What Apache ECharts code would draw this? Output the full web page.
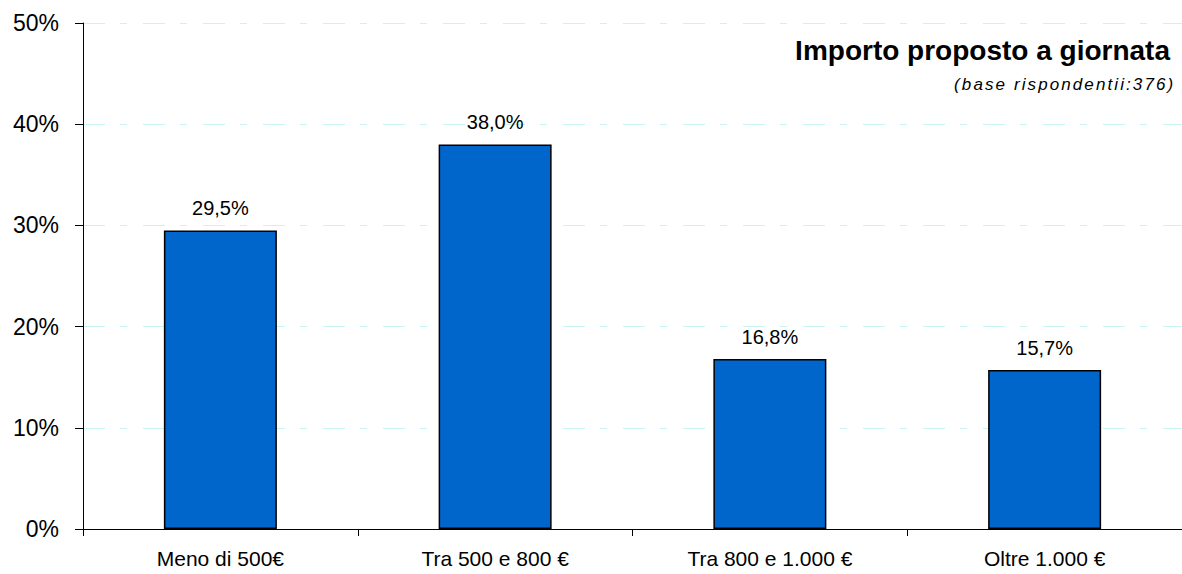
<!DOCTYPE html>
<html>
<head>
<meta charset="utf-8">
<script src="https://cdn.jsdelivr.net/npm/echarts@6/dist/echarts.min.js"></script>
<style>
  html, body { margin: 0; padding: 0; background: #ffffff; }
  #chart { width: 1182px; height: 574px; }
  /* spaced-out italic note under the heading */
  #chart text[style*="italic"] { letter-spacing: 2.1px; }
</style>
</head>
<body>
<div id="chart"></div>
<script>
// Fasce di importo giornaliero e quota di rispondenti (%)
const categories = ['Meno di 500€', 'Tra 500 e 800 €', 'Tra 800 e 1.000 €', 'Oltre 1.000 €'];
const shares = [29.5, 38.0, 16.8, 15.7];
const yTicks = [0, 10, 20, 30, 40, 50];

const FONT = '"Liberation Sans", Arial, sans-serif';

const chart = echarts.init(document.getElementById('chart'), null, { renderer: 'svg' });

chart.setOption({
  backgroundColor: '#ffffff',
  animation: false,
  title: [
    {
      text: 'Importo proposto a giornata',
      right: 7,
      top: 31,
      textStyle: { fontFamily: FONT, fontWeight: 'bold', fontSize: 28, color: '#000000' }
    },
    {
      // letter spacing widens the drawn text to the right, so it sits further in
      text: '(base rispondentii:376)',
      right: 50,
      top: 71,
      textStyle: { fontFamily: FONT, fontStyle: 'italic', fontWeight: 'normal', fontSize: 17, color: '#000000' }
    }
  ],
  grid: { left: 83, top: 23, width: 1105, height: 506, containLabel: false },
  xAxis: {
    type: 'category',
    data: categories,
    axisLine: { lineStyle: { color: '#000000', width: 1 } },
    axisTick: { show: true, length: 7, lineStyle: { color: '#000000' } },
    axisLabel: { fontFamily: FONT, fontSize: 21, color: '#000000', margin: 19 },
    splitLine: { show: false }
  },
  yAxis: {
    type: 'value',
    min: yTicks[0],
    max: yTicks[yTicks.length - 1],
    interval: 10,
    axisLine: { show: true, lineStyle: { color: '#000000', width: 1 } },
    axisTick: { show: true, length: 8, lineStyle: { color: '#000000' } },
    axisLabel: {
      fontFamily: FONT, fontSize: 23, color: '#000000', margin: 24,
      formatter: v => v + '%'
    },
    splitLine: {
      show: true,
      lineStyle: { color: '#c8f4f4', width: 1, type: [22, 15, 7, 16] }
    }
  },
  series: [{
    type: 'bar',
    data: shares,
    barWidth: 113,
    itemStyle: { color: '#0066cc', borderColor: '#000000', borderWidth: 1.5 },
    label: {
      show: true,
      position: 'top',
      distance: 12,
      fontFamily: FONT,
      fontSize: 20,
      color: '#000000',
      formatter: p => p.value.toFixed(1).replace('.', ',') + '%'
    }
  }]
});
</script>
</body>
</html>
